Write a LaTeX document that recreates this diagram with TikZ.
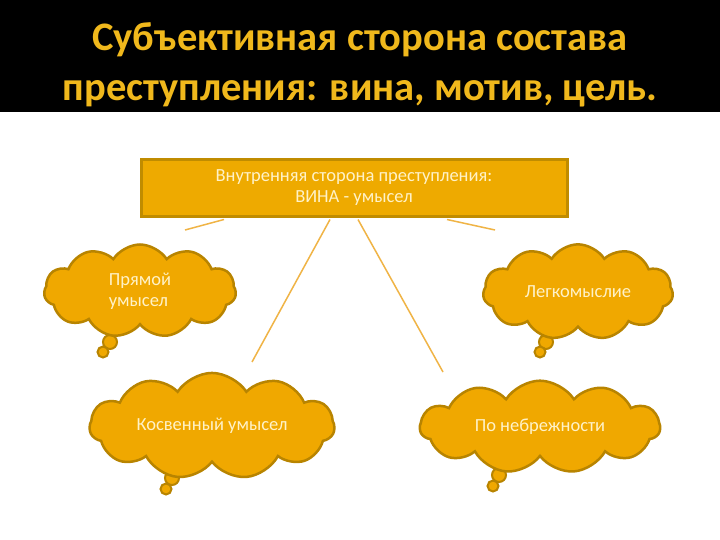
\documentclass[tikz,border=0pt]{standalone}
\usepackage{fontspec}
\setmainfont{Carlito}
\usetikzlibrary{shapes.symbols}
\definecolor{gold}{HTML}{F0B81C}
\definecolor{boxfill}{HTML}{EEAA00}
\definecolor{boxedge}{HTML}{C08C00}
\definecolor{cloudfill}{HTML}{F0A800}
\definecolor{cloudedge}{HTML}{B88400}
\definecolor{linecol}{HTML}{F0B446}
\definecolor{paletext}{HTML}{FFF2C8}
\tikzset{
  cloudbox/.style={cloud, cloud puffs=11, cloud puff arc=115,
    fill=cloudfill, draw=cloudedge, line width=2.5pt, inner sep=0pt,
    text=paletext, font=\fontsize{18.5}{21}\selectfont, align=left},
  bubble/.style={circle, fill=cloudfill, draw=cloudedge, line width=2pt, inner sep=0pt},
  link/.style={draw=linecol, line width=1.5pt},
}
\begin{document}
\begin{tikzpicture}[x=1pt,y=-1pt]
\useasboundingbox (0,0) rectangle (720,540);
\fill[white] (0,0) rectangle (720,540);
\fill[black] (0,0) rectangle (720,112);
\node[text=gold, font=\bfseries\fontsize{40.5}{50}\selectfont, align=center] (title) at (360,65)
  {Субъективная сторона состава\\преступления: вина, мотив, цель.};
\node[fill=boxfill, draw=boxedge, line width=3pt, minimum width=426pt, minimum height=57pt,
  text=paletext, font=\fontsize{18.5}{21}\selectfont, align=center, inner sep=0pt] (box) at (354,188)
  {Внутренняя сторона преступления:\\ВИНА - умысел};
% tails
\node[bubble, minimum size=14pt] (t1a) at (110,342) {};
\node[bubble, minimum size=11pt] (t1b) at (103,352) {};
\node[bubble, minimum size=14pt] (t2a) at (546,342) {};
\node[bubble, minimum size=11pt] (t2b) at (540,352) {};
\node[bubble, minimum size=14pt] (t3a) at (172,478) {};
\node[bubble, minimum size=11pt] (t3b) at (166,489) {};
\node[bubble, minimum size=14pt] (t4a) at (499,475) {};
\node[bubble, minimum size=11pt] (t4b) at (493,486) {};
% clouds
\node[cloudbox, aspect=2.06, minimum width=192pt, minimum height=93pt] (c1) at (140,291)
  {Прямой\\умысел};
\node[cloudbox, aspect=2.0, minimum width=190pt, minimum height=95pt] (c2) at (578,292)
  {Легкомыслие};
\node[cloudbox, aspect=2.8, minimum width=245pt, minimum height=88pt] (c3) at (212,426)
  {Косвенный умысел};
\node[cloudbox, aspect=2.76, minimum width=240pt, minimum height=87pt] (c4) at (540,427)
  {По небрежности};
\coordinate (e1) at (185,230);
\coordinate (e2) at (252,362);
\coordinate (e3) at (443,372);
\coordinate (e4) at (495,230);
\draw[link] ([xshift=-130pt,yshift=-1.5pt]box.south) -- (e1);
\draw[link] ([xshift=-24pt,yshift=-1.5pt]box.south) -- (e2);
\draw[link] ([xshift=4pt,yshift=-1.5pt]box.south) -- (e3);
\draw[link] ([xshift=93pt,yshift=-1.5pt]box.south) -- (e4);
\end{tikzpicture}
\end{document}
